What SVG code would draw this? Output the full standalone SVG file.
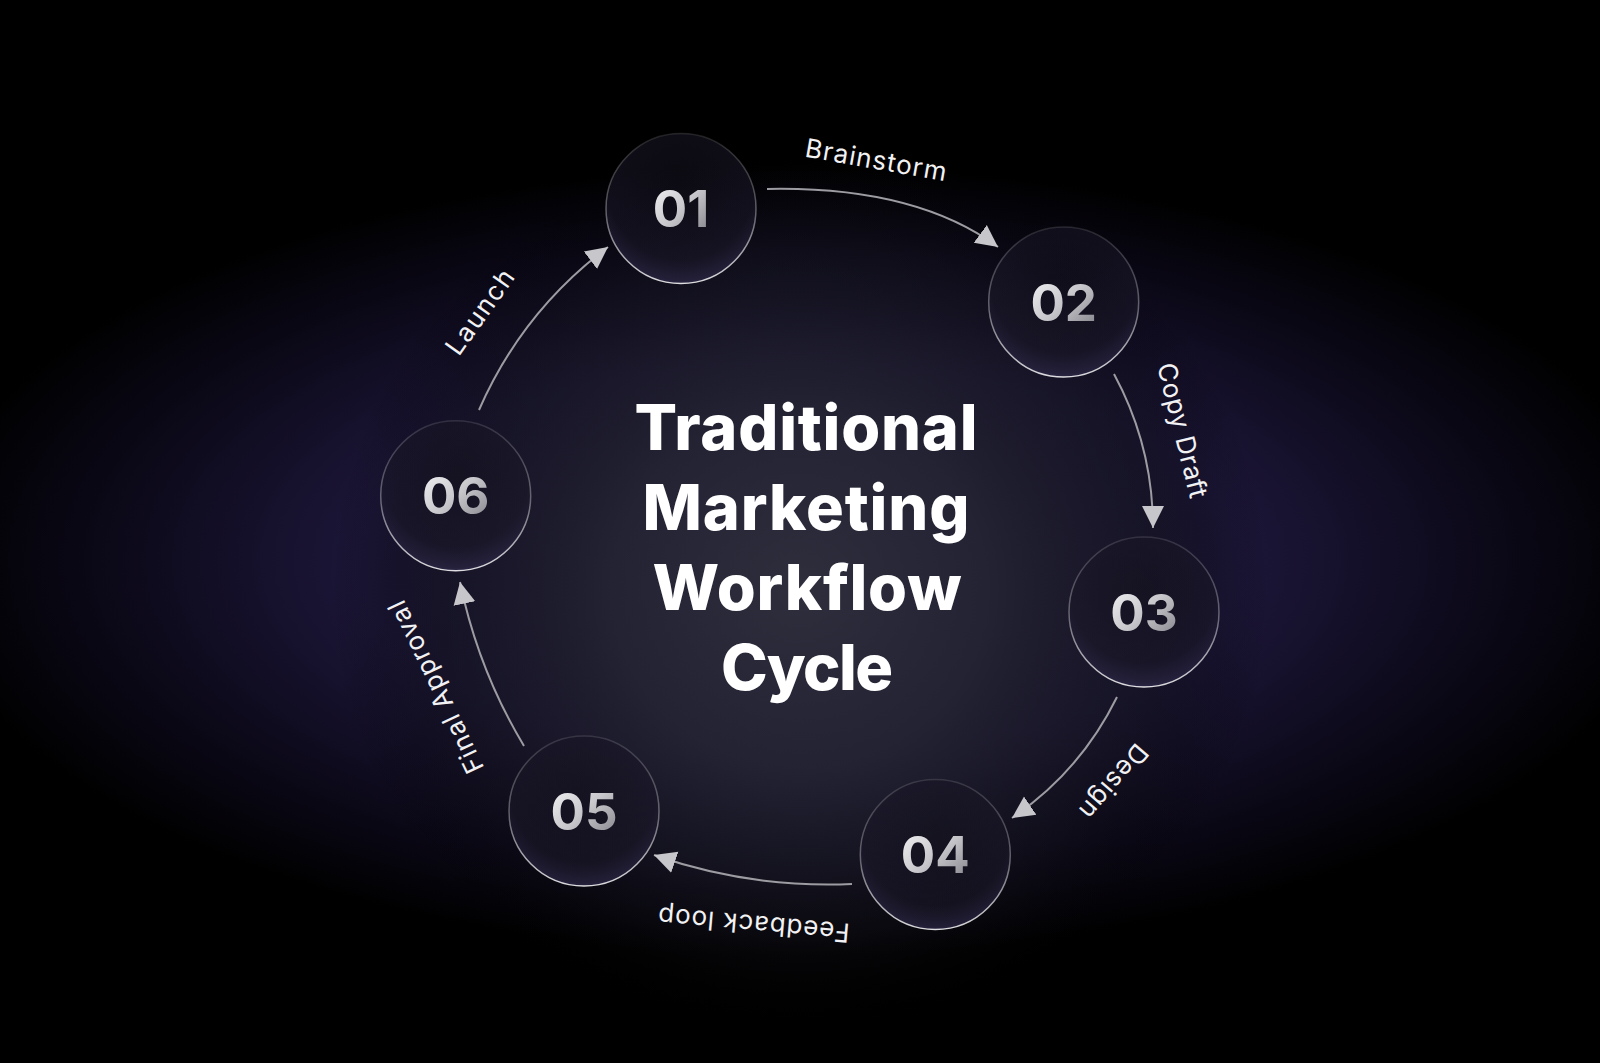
<svg xmlns="http://www.w3.org/2000/svg" width="1600" height="1063" viewBox="0 0 1600 1063">
  <defs>
    <radialGradient id="bgPurple" gradientUnits="userSpaceOnUse" cx="800" cy="560" r="880" gradientTransform="translate(800 560) scale(1 0.45) translate(-800 -560)">
      <stop offset="0" stop-color="#1f1a38"/>
      <stop offset="0.5" stop-color="#1c1638"/>
      <stop offset="0.8" stop-color="#0b0817"/>
      <stop offset="1" stop-color="#000000"/>
    </radialGradient>
    <radialGradient id="bgGray" gradientUnits="userSpaceOnUse" cx="800" cy="590" r="470" gradientTransform="translate(800 590) scale(1 0.95) translate(-800 -590)">
      <stop offset="0" stop-color="#2e2e3d" stop-opacity="1"/>
      <stop offset="0.4" stop-color="#242433" stop-opacity="0.9"/>
      <stop offset="0.78" stop-color="#101017" stop-opacity="0.5"/>
      <stop offset="1" stop-color="#000000" stop-opacity="0"/>
    </radialGradient>
    <radialGradient id="nodeFill" cx="0.5" cy="0.35" r="0.7">
      <stop offset="0" stop-color="#14121e" stop-opacity="0.55"/>
      <stop offset="0.7" stop-color="#1a1728" stop-opacity="0.6"/>
      <stop offset="0.9" stop-color="#2a2542" stop-opacity="0.75"/>
      <stop offset="1" stop-color="#4a4270" stop-opacity="0.85"/>
    </radialGradient>
    <linearGradient id="nodeStroke" x1="0" y1="0" x2="0" y2="1">
      <stop offset="0" stop-color="#ffffff" stop-opacity="0.12"/>
      <stop offset="0.55" stop-color="#ffffff" stop-opacity="0.35"/>
      <stop offset="1" stop-color="#ffffff" stop-opacity="0.85"/>
    </linearGradient>
    <linearGradient id="digit" x1="0" y1="0" x2="1" y2="1">
      <stop offset="0" stop-color="#f7f7f9"/>
      <stop offset="0.5" stop-color="#c8c8cc"/>
      <stop offset="1" stop-color="#7c7c84"/>
    </linearGradient>
    <marker id="arr" markerUnits="userSpaceOnUse" markerWidth="24" markerHeight="24" viewBox="0 0 24 24" refX="22" refY="12" orient="auto">
      <path d="M0,1 L22,12 L0,23 z" fill="#c6c6cb"/>
    </marker>
    <style>
      .node circle { fill: url(#nodeFill); stroke: url(#nodeStroke); stroke-width: 1.5; }
      .num { font-family: Inter, "Open Sans", "Liberation Sans", sans-serif; font-weight: 700; font-size: 51px; fill: url(#digit); text-anchor: middle; }
      .edge { fill: none; stroke: #9c9ca2; stroke-width: 2; marker-end: url(#arr); }
      .lbl { font-family: Inter, Lato, "Open Sans", "Liberation Sans", sans-serif; font-weight: 400; font-size: 26px; fill: #f2f2f4; text-anchor: middle; }
      .title { font-family: Inter, "Open Sans", "Liberation Sans", sans-serif; font-weight: 800; font-size: 63px; fill: #ffffff; text-anchor: middle; }
    </style>
  </defs>

  <rect x="0" y="0" width="1600" height="1063" fill="#000000"/>
  <rect x="0" y="0" width="1600" height="1063" fill="url(#bgPurple)"/>
  <rect x="0" y="0" width="1600" height="1063" fill="url(#bgGray)"/>

  <g id="title">
    <text class="title" x="806" y="450" textLength="343" lengthAdjust="spacing">Traditional</text>
    <text class="title" x="806" y="530" textLength="327" lengthAdjust="spacing">Marketing</text>
    <text class="title" x="807" y="610" textLength="309" lengthAdjust="spacing">Workflow</text>
    <text class="title" x="807" y="690" textLength="172" lengthAdjust="spacing">Cycle</text>
  </g>

  <g id="connectors">
    <path class="edge" d="M767,189 Q915,186 998,247"/>
    <path class="edge" d="M1114,374 Q1153,446 1153,528"/>
    <path class="edge" d="M1117,697 Q1080.5,771.4 1012,818"/>
    <path class="edge" d="M852,884 Q750,888.5 654,855"/>
    <path class="edge" d="M524,746 Q478,669.5 460,582"/>
    <path class="edge" d="M479,410 Q522,311.6 608,247"/>
  </g>

  <g id="edge-labels">
    <text class="lbl" transform="translate(876 160) rotate(10)" x="0" y="9" textLength="143" lengthAdjust="spacing">Brainstorm</text>
    <text class="lbl" transform="translate(1180 431) rotate(76)" x="0" y="6.5" textLength="138" lengthAdjust="spacing">Copy Draft</text>
    <text class="lbl" transform="translate(1112 780) rotate(130.6)" x="0" y="6.5" textLength="90" lengthAdjust="spacing">Design</text>
    <text class="lbl" transform="translate(754 922) rotate(185)" x="0" y="6.5" textLength="192" lengthAdjust="spacing">Feedback loop</text>
    <text class="lbl" transform="translate(438 686) rotate(244.4)" x="0" y="6.5" textLength="188" lengthAdjust="spacing">Final Approval</text>
    <text class="lbl" transform="translate(480 312) rotate(-54.5)" x="0" y="9" textLength="98" lengthAdjust="spacing">Launch</text>
  </g>

  <g id="node-01" class="node">
    <circle cx="681" cy="208.5" r="75"/>
    <text class="num" x="681" y="227">01</text>
  </g>
  <g id="node-02" class="node">
    <circle cx="1063.7" cy="302" r="75"/>
    <text class="num" x="1063.7" y="320.5">02</text>
  </g>
  <g id="node-03" class="node">
    <circle cx="1144" cy="612" r="75"/>
    <text class="num" x="1144" y="630.5">03</text>
  </g>
  <g id="node-04" class="node">
    <circle cx="935.3" cy="854.5" r="75"/>
    <text class="num" x="935.3" y="873">04</text>
  </g>
  <g id="node-05" class="node">
    <circle cx="584" cy="811" r="75"/>
    <text class="num" x="584" y="829.5">05</text>
  </g>
  <g id="node-06" class="node">
    <circle cx="455.7" cy="495.7" r="75"/>
    <text class="num" x="455.7" y="514.2">06</text>
  </g>
</svg>
